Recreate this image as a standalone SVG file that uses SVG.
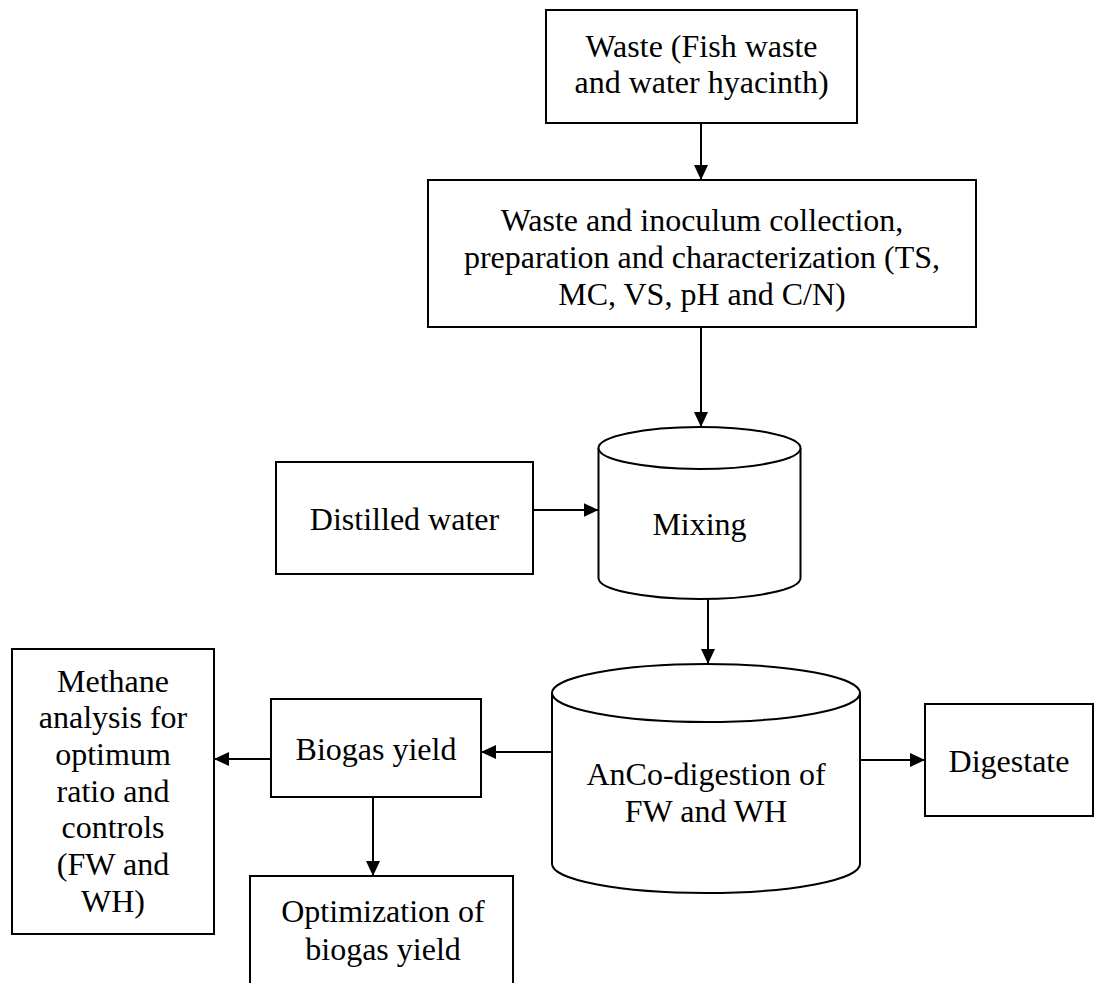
<svg xmlns="http://www.w3.org/2000/svg" width="1094" height="983" viewBox="0 0 1094 983">
<style>
.box{fill:#fff;stroke:#000;stroke-width:2}
.cyl{fill:#fff;stroke:#000;stroke-width:2}
.t{font-family:"Liberation Serif","Times New Roman","DejaVu Serif",serif;font-size:32px;fill:#000;text-anchor:middle}
.c{stroke:#000;stroke-width:2;fill:none;marker-end:url(#ah)}
</style>
<defs>
<marker id="ah" markerUnits="userSpaceOnUse" markerWidth="16" markerHeight="14" refX="15" refY="7" orient="auto">
<path d="M0,0 L15,7 L0,14 Z" fill="#000"/>
</marker>
</defs>
<rect width="1094" height="983" fill="#fff"/>
<g id="waste">
<rect class="box" x="546" y="10" width="311" height="113"/>
<text class="t" x="701.5" y="57">Waste (Fish waste</text>
<text class="t" x="701.5" y="93">and water hyacinth)</text>
</g>
<g id="collection">
<rect class="box" x="428" y="180" width="548" height="147"/>
<text class="t" x="702" y="231">Waste and inoculum collection,</text>
<text class="t" x="702" y="268">preparation and characterization (TS,</text>
<text class="t" x="702" y="305">MC, VS, pH and C/N)</text>
</g>
<g id="distilled">
<rect class="box" x="276" y="462" width="257" height="112"/>
<text class="t" x="404.5" y="530">Distilled water</text>
</g>
<g id="mixing">
<path class="cyl" d="M598.5,448 L598.5,578 A101,21 0 0 0 800.5,578 L800.5,448"/>
<ellipse class="cyl" cx="699.5" cy="448" rx="101" ry="21"/>
<text class="t" x="699.5" y="535">Mixing</text>
</g>
<g id="anco">
<path class="cyl" d="M552,693 L552,864 A154,29 0 0 0 860,864 L860,693"/>
<ellipse class="cyl" cx="706" cy="693" rx="154" ry="29"/>
<text class="t" x="706" y="785">AnCo-digestion of</text>
<text class="t" x="706" y="822">FW and WH</text>
</g>
<g id="digestate">
<rect class="box" x="925" y="704" width="168" height="112"/>
<text class="t" x="1009" y="772">Digestate</text>
</g>
<g id="biogas">
<rect class="box" x="271" y="699" width="210" height="98"/>
<text class="t" x="376" y="760">Biogas yield</text>
</g>
<g id="methane">
<rect class="box" x="12" y="649" width="202" height="285"/>
<text class="t" x="113" y="692">Methane</text>
<text class="t" x="113" y="728">analysis for</text>
<text class="t" x="113" y="765">optimum</text>
<text class="t" x="113" y="802">ratio and</text>
<text class="t" x="113" y="838">controls</text>
<text class="t" x="113" y="875">(FW and</text>
<text class="t" x="113" y="912">WH)</text>
</g>
<g id="optimization">
<rect class="box" x="250" y="876" width="263" height="120"/>
<text class="t" x="383" y="922">Optimization of</text>
<text class="t" x="383" y="960">biogas yield</text>
</g>
<g id="connectors">
<line class="c" x1="701" y1="123" x2="701" y2="180"/>
<line class="c" x1="701" y1="327" x2="701" y2="427"/>
<line class="c" x1="533" y1="510" x2="598.5" y2="510"/>
<line class="c" x1="708" y1="599" x2="708" y2="664"/>
<line class="c" x1="552" y1="752" x2="481" y2="752"/>
<line class="c" x1="860" y1="760" x2="925" y2="760"/>
<line class="c" x1="271" y1="759" x2="214" y2="759"/>
<line class="c" x1="373" y1="797" x2="373" y2="876"/>
</g>
</svg>
